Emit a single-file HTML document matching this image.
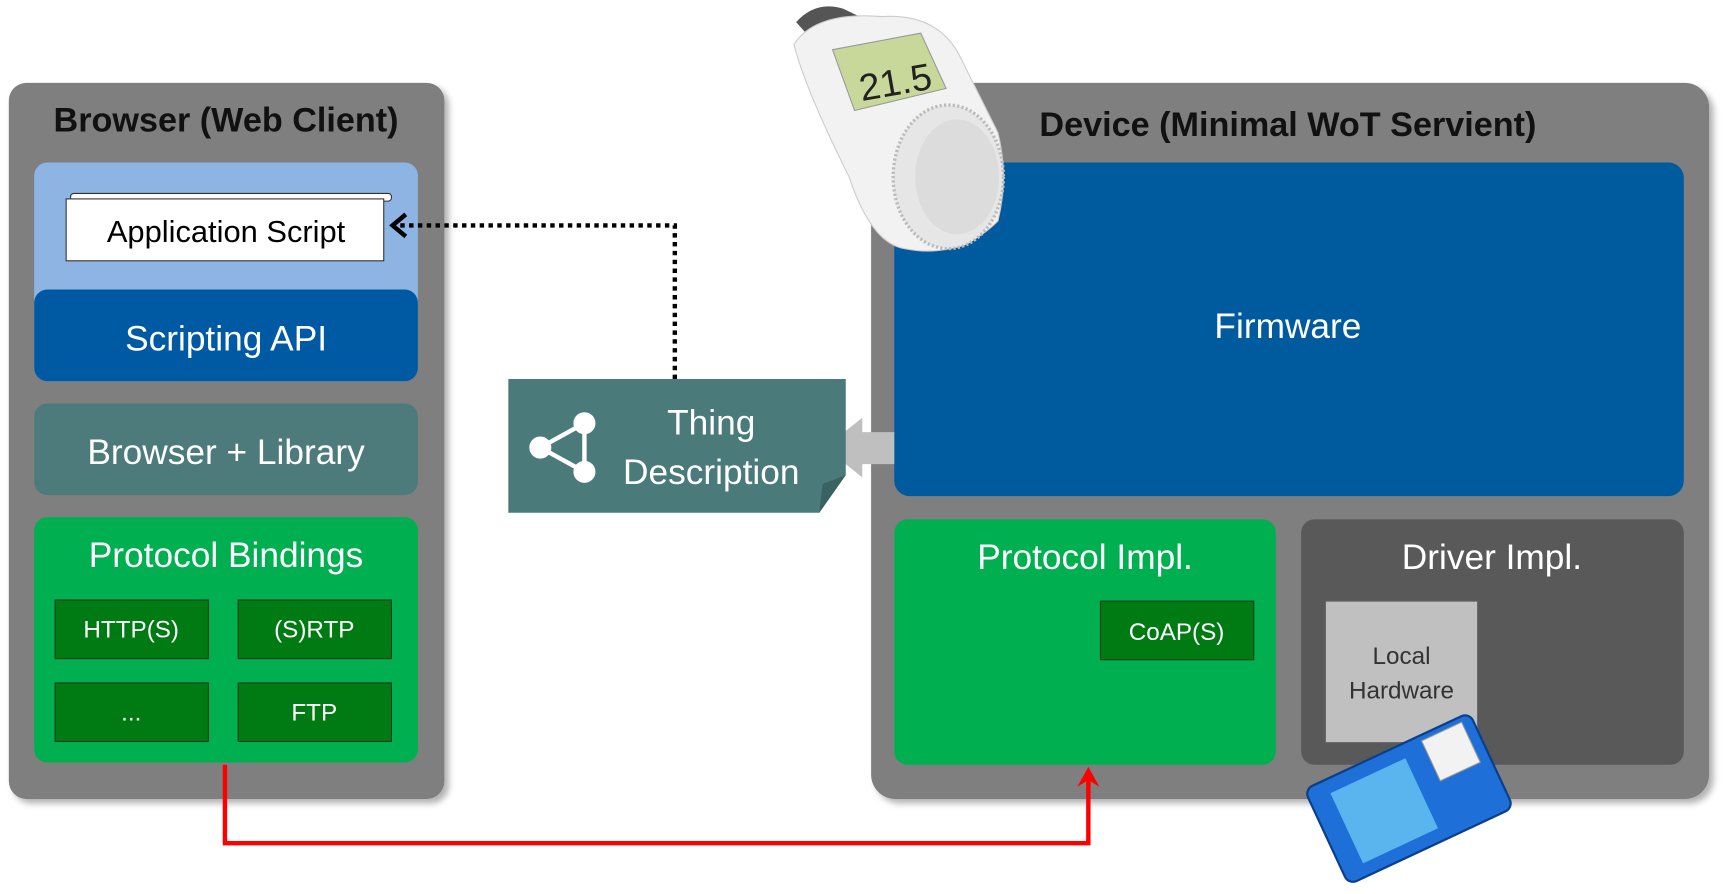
<!DOCTYPE html>
<html><head><meta charset="utf-8"><style>
html,body{margin:0;padding:0;background:#fff;}
svg{display:block;}
text{font-family:"Liberation Sans",sans-serif;}
</style></head><body>
<svg width="1729" height="894" viewBox="0 0 1568 809" preserveAspectRatio="none" xmlns="http://www.w3.org/2000/svg">
<defs>
<filter id="sh" x="-5%" y="-5%" width="115%" height="115%"><feDropShadow dx="4" dy="4" stdDeviation="3" flood-color="#000" flood-opacity="0.3"/></filter>
</defs>
<!-- Left panel -->
<rect x="8" y="75" width="395" height="648" rx="16" fill="#7f7f7f" filter="url(#sh)"/>
<text x="205" y="119" text-anchor="middle" font-size="31" font-weight="bold" fill="#111">Browser (Web Client)</text>
<rect x="31" y="147" width="348" height="198" rx="12" fill="#8eb4e3"/>
<rect x="31" y="262" width="348" height="83" rx="12" fill="#0059a3"/>
<text x="205" y="317" text-anchor="middle" font-size="32" fill="#fff">Scripting API</text>
<rect x="64" y="175" width="291" height="7" rx="3" fill="#fff" stroke="#333" stroke-width="1"/>
<rect x="60" y="180" width="288" height="56" fill="#fff" stroke="#333" stroke-width="1"/>
<text x="205" y="219" text-anchor="middle" font-size="28" fill="#000">Application Script</text>
<rect x="31" y="365" width="348" height="83" rx="12" fill="#4d7b7b"/>
<text x="205" y="420" text-anchor="middle" font-size="32" fill="#fff">Browser + Library</text>
<rect x="31" y="468" width="348" height="222" rx="12" fill="#00b050"/>
<text x="205" y="513" text-anchor="middle" font-size="32" fill="#fff">Protocol Bindings</text>
<g fill="#007a12" stroke="#1a3a1a" stroke-width="1">
<rect x="50" y="543" width="139" height="53"/><rect x="216" y="543" width="139" height="53"/>
<rect x="50" y="618" width="139" height="53"/><rect x="216" y="618" width="139" height="53"/>
</g>
<g fill="#fff" font-size="22" text-anchor="middle">
<text x="119" y="577">HTTP(S)</text><text x="285" y="577">(S)RTP</text>
<text x="119" y="652">...</text><text x="285" y="652">FTP</text>
</g>
<!-- Right panel -->
<rect x="790" y="75" width="760" height="648" rx="22" fill="#7f7f7f" filter="url(#sh)"/>
<text x="1168" y="123" text-anchor="middle" font-size="31" font-weight="bold" fill="#111">Device (Minimal WoT Servient)</text>
<rect x="811" y="147" width="716" height="302" rx="14" fill="#005a9e"/>
<text x="1168" y="306" text-anchor="middle" font-size="32" fill="#fff">Firmware</text>
<rect x="811" y="470" width="346" height="222" rx="12" fill="#00b050"/>
<text x="984" y="515" text-anchor="middle" font-size="32" fill="#fff">Protocol Impl.</text>
<rect x="998" y="544" width="139" height="53" fill="#007a12" stroke="#1a3a1a"/>
<text x="1067" y="579" text-anchor="middle" font-size="22" fill="#fff">CoAP(S)</text>
<rect x="1180" y="470" width="347" height="222" rx="12" fill="#595959"/>
<text x="1353" y="515" text-anchor="middle" font-size="32" fill="#fff">Driver Impl.</text>
<rect x="1202" y="544" width="138" height="128" fill="#c0c0c0" stroke="#666"/>
<text x="1271" y="601" text-anchor="middle" font-size="22" fill="#333">Local</text>
<text x="1271" y="632" text-anchor="middle" font-size="22" fill="#333">Hardware</text>
<!-- sensor board -->
<g transform="rotate(-25 1278 722)">
<rect x="1195" y="675" width="165" height="95" rx="8" fill="#1e6fd8" stroke="#0b3f8a" stroke-width="2"/>
<rect x="1215" y="688" width="75" height="70" fill="#5ab4ee"/>
<rect x="1310" y="680" width="40" height="40" fill="#f2f2f2" stroke="#999"/>
</g>
<!-- thermostat -->
<g>
<path d="M722 20 Q740 0 765 8 L790 20 L740 40 Z" fill="#555"/>
<path d="M720 40 Q740 10 800 15 Q850 12 870 50 L905 120 Q915 160 905 200 Q870 235 820 225 Q790 220 770 160 Q730 80 720 40 Z" fill="#f2f2f2" stroke="#ccc"/>
<path d="M755 45 L835 30 L858 80 L775 100 Z" fill="#c8d89a" stroke="#999"/>
<text x="778" y="88" font-size="34" fill="#222" transform="rotate(-10 800 70)">21.5</text>
<ellipse cx="860" cy="160" rx="50" ry="65" fill="#e6e6e6" stroke="#bbb" stroke-width="3" stroke-dasharray="2 2"/>
<ellipse cx="868" cy="160" rx="38" ry="52" fill="#dcdcdc"/>
</g>
<!-- gray arrow -->
<polygon points="811,391 782,391 782,378 748,405 782,432 782,420 811,420" fill="#bfbfbf"/>
<!-- Thing Description -->
<polygon points="461,343 767,343 767,430 743,464 461,464" fill="#4a7a7a"/>
<polygon points="767,430 743,464 746,438" fill="#3a6262"/>
<g stroke="#fff" stroke-width="4" fill="#fff">
<line x1="490" y1="405" x2="530" y2="383"/><line x1="490" y1="405" x2="530" y2="427"/><line x1="530" y1="383" x2="530" y2="427"/>
<circle cx="490" cy="405" r="8"/><circle cx="530" cy="383" r="8"/><circle cx="530" cy="427" r="8"/>
</g>
<text x="645" y="393" text-anchor="middle" font-size="32" fill="#fff">Thing</text>
<text x="645" y="438" text-anchor="middle" font-size="32" fill="#fff">Description</text>
<!-- dotted connector -->
<polyline points="612,343 612,204 360,204" fill="none" stroke="#000" stroke-width="4" stroke-dasharray="4 4"/>
<polyline points="368,194 356,204 368,214" fill="none" stroke="#000" stroke-width="4"/>
<!-- red connector -->
<polyline points="204,692 204,763 987,763 987,702" fill="none" stroke="#ff0000" stroke-width="4"/>
<polygon points="977,712 987,694 997,712 987,706" fill="#ff0000"/>
</svg>
</body></html>
